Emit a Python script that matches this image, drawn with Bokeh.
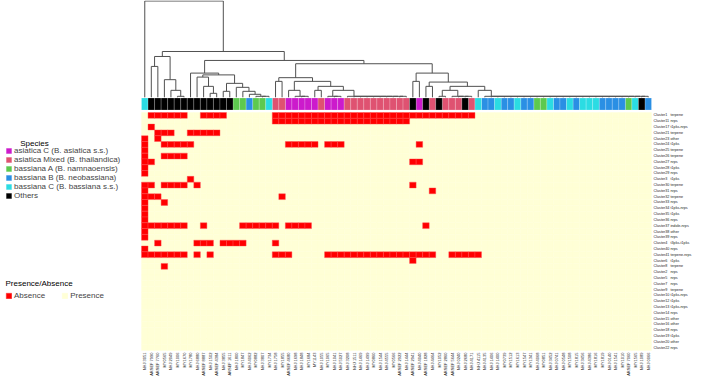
import math
from bokeh.plotting import figure
from bokeh.models import Range1d, Legend, LegendItem
from bokeh.core.properties import value
from bokeh.embed import file_html
from bokeh.resources import INLINE

# ---------------- data ----------------
strains = ["NHJ 3051", "ARSEF 7990", "ARSEF 7760", "MY0565", "NHJ 2049", "MY1006", "MY1670", "MY1780",
           "NHJ 6880", "ARSEF 8887", "NHJ 1502", "ARSEF 4384", "NHJ 3855", "ARSEF 1611", "NHJ 1800",
           "MY1847", "NHJ 4062", "MY0882", "NHJ 3807", "MY1734", "NHJ 1758", "MY1855", "ARSEF 4680",
           "NHJ 1698", "NHJ 1848", "MY1684", "MY1143", "NHJ 1055", "MY1065", "NHJ 1041", "NHJ 5027",
           "NHJ 3208", "NHJ 1511", "NHJ 1469", "NHJ 1499", "MY0860", "NHJ 1544", "NHJ 4555", "MY0566",
           "ARSEF 2922", "NHJ 1444", "ARSEF 2941", "NHJ 4040", "ARSEF 1828", "NHJ 4464", "MY1052",
           "ARSEF 2860", "ARSEF 5644", "NHJ 0240", "NHJ 2680", "NHJ 4171", "NHJ 4115", "NHJ 4135",
           "NHJ 1406", "NHJ 1400", "MY0739", "MY1512", "MY1613", "MY1547", "MY1341", "NHJ 4068",
           "MY0851", "NHJ 3452", "NHJ 0741", "NHJ 0548", "MY1508", "MY1815", "NHJ 3456", "NHJ 4386",
           "MY1816", "MY1819", "NHJ 0140", "NHJ 1541", "MY1010", "ARSEF 7060", "MY1565", "NHJ 1089",
           "NHJ 0066"]

# species code of each strain (column order)
species = ["bC",
           "O", "O", "O", "O", "O", "O", "O", "O", "O", "O", "O", "O", "O",
           "bA", "bA", "bB", "bA", "bA", "bC",
           "aM", "aM", "aC", "aC", "aC", "aC", "aC", "aM", "aC", "aC", "aC",
           "aM", "aM", "aM", "aM", "aM", "aM", "aM", "aM", "aM", "aM",
           "O", "aC", "O", "aM", "O", "aM", "aM", "aM", "O", "aM",
           "bC", "bB", "bB", "bC", "bB", "bB", "bC", "bB", "bB", "bA", "bA", "bC", "bB", "bB",
           "bC", "bB", "bC", "bC", "bC", "bB", "bB", "bB", "bB", "bA", "bC", "O", "bB"]

species_order = ["aC", "aM", "bA", "bB", "bC", "O"]
species_names = {"aC": "asiatica C (B. asiatica s.s.)",
                 "aM": "asiatica Mixed (B. thailandica)",
                 "bA": "bassiana A (B. namnaoensis)",
                 "bB": "bassiana B (B. neobassiana)",
                 "bC": "bassiana C (B. bassiana s.s.)",
                 "O": "Others"}
species_colors = {"aC": "#CC1ACC", "aM": "#DF5271", "bA": "#5DC94E",
                  "bB": "#2A8FE4", "bC": "#2BDCE3", "O": "#000000"}

clusters = ["Cluster1", "Cluster11", "Cluster17", "Cluster21", "Cluster23", "Cluster24", "Cluster25",
            "Cluster26", "Cluster27", "Cluster28", "Cluster29", "Cluster3", "Cluster30", "Cluster31",
            "Cluster32", "Cluster33", "Cluster34", "Cluster35", "Cluster36", "Cluster37", "Cluster38",
            "Cluster39", "Cluster4", "Cluster40", "Cluster41", "Cluster6", "Cluster8", "Cluster2",
            "Cluster5", "Cluster7", "Cluster9", "Cluster10", "Cluster12", "Cluster13", "Cluster14",
            "Cluster15", "Cluster16", "Cluster18", "Cluster19", "Cluster20", "Cluster22"]
cluster_types = ["terpene", "nrps", "t1pks-nrps", "terpene", "other", "t1pks", "terpene",
                 "terpene", "nrps", "t1pks", "nrps", "t1pks", "terpene", "nrps",
                 "terpene", "nrps", "t1pks-nrps", "t1pks", "nrps", "indole-nrps", "other",
                 "nrps", "t3pks-t1pks", "nrps", "terpene-nrps", "t1pks", "terpene", "nrps",
                 "nrps", "nrps", "terpene", "t1pks-nrps", "t1pks", "t1pks-nrps", "nrps",
                 "other", "other", "nrps", "t1pks", "other", "nrps"]

# runs (first column, last column) of "Absence" cells per cluster row
absent_runs = [
    [(1, 6), (9, 12), (20, 50)],
    [(20, 40)],
    [(1, 1)],
    [(2, 4), (7, 11)],
    [(0, 0), (2, 2)],
    [(0, 0), (3, 7), (22, 26), (28, 30), (42, 42)],
    [(0, 0)],
    [(0, 0), (3, 6)],
    [(0, 1), (41, 42)],
    [(0, 0)],
    [(0, 0)],
    [(7, 7)],
    [(0, 1), (3, 6), (8, 8), (41, 41)],
    [(0, 0), (44, 44)],
    [(0, 2), (21, 21)],
    [(0, 0), (3, 3)],
    [(0, 0)],
    [(0, 0)],
    [(0, 0)],
    [(0, 6), (9, 9), (15, 20), (22, 25), (43, 43)],
    [(0, 0)],
    [(0, 0)],
    [(2, 2), (8, 10), (12, 15), (20, 20)],
    [(0, 0)],
    [(0, 6), (8, 8), (10, 10), (20, 22), (28, 44), (47, 51)],
    [(41, 41)],
    [(3, 3)],
    [], [], [], [], [], [], [], [], [], [], [], [], [], [],
]


def chain(leaves, h):
    """right-leaning chain of near-identical leaves merged at height h"""
    node = leaves[-1]
    for lf in reversed(leaves[:-1]):
        node = (h, lf, node)
    return node


# dendrogram: (merge height, left, right); integers are column indices
tree = (96.7, 0,
        (46,
         (41, (31, 1, 2), (17.7, 3, (7, 4, (1, 5, 6)))),
         (37,
          (24.3, 7,
           (22.5,
            (20.3, 8, (11, 9, (4, 10, 11))),
            (14, (6, 12, 13), (10, 14, (6, 15, (3, 16, (1, 17, (1, 18, 19)))))))),
          (33.7,
           (19.7, (16, 20, 21),
            (16, (7, 22, (1, 23, (1, 24, 25))),
             (11, (7, 26, 27),
              (7, (1, 28, (1, 29, 30)), chain([31, 32, 33, 34, 35, 36, 37, 38, 39, 40], 1))))),
           (24.3, (16, 41, 42),
            (15.3, (11, 43, 44),
             (11, (7, (1, 45, 46), (1, 47, (1, 48, (1, 49, 50)))),
              (7, 51, chain([52, 53, 54, 55, 56, 57, 58, 59, 60, 61, 62, 63, 64, 65, 66, 67, 68,
                             69, 70, 71, 72, 73, 74, 75, 76, 77], 1)))))))))

# ---------------- layout (pixels on the canvas) ----------------
W, H = 705, 383
NCOL, NROW = len(strains), len(clusters)
PX_COL = 510.0 / NCOL
PX_ROW = 238.0 / NROW
HM_LEFT, HM_TOP = 141.0, 112.0
x_start = -0.5 - HM_LEFT / PX_COL
x_end = x_start + W / PX_COL
y_end = 0.5 + HM_TOP / PX_ROW
y_start = y_end - H / PX_ROW


def xdata(px):
    return x_start + px / PX_COL


def ydata(px):
    return y_end - px / PX_ROW


FONT = "Liberation Sans"

p = figure(width=W, height=H, output_backend="svg", toolbar_location=None,
           x_range=Range1d(x_start, x_end), y_range=Range1d(y_start, y_end),
           x_axis_location=None, y_axis_location=None, min_border=0,
           background_fill_color="white", border_fill_color="white")
p.grid.visible = False
p.outline_line_color = None

# ---------------- heatmap ----------------
ax, ay, px_, py_ = [], [], [], []
for r, runs in enumerate(absent_runs):
    cols = set()
    for a, b in runs:
        cols.update(range(a, b + 1))
    for j in range(NCOL):
        if j in cols:
            ax.append(j); ay.append(-r)
        else:
            px_.append(j); py_.append(-r)

r_pres = p.rect(x=px_, y=py_, width=1, height=1, fill_color="#FFFFD6",
                line_color="#FFFFD6", line_width=0.3)
r_abs = p.rect(x=ax, y=ay, width=1, height=1, fill_color="#FF0000",
               line_color="#FF4A4A", line_width=0.4)

# ---------------- species colour bar ----------------
cb_top, cb_bot = ydata(97.5), ydata(109.5)
sp_r = {}
for code in species_order:
    xs = [j for j, s in enumerate(species) if s == code]
    sp_r[code] = p.rect(x=xs, y=[(cb_top + cb_bot) / 2] * len(xs), width=1,
                        height=cb_top - cb_bot, fill_color=species_colors[code],
                        line_color="white", line_alpha=0.4, line_width=0.5)

# ---------------- dendrogram ----------------
segs = {"x0": [], "y0": [], "x1": [], "y1": []}


def lay(node):
    if isinstance(node, int):
        return float(node), 0.0
    h, a, b = node
    xa, ha = lay(a)
    xb, hb = lay(b)
    for x0, y0, x1, y1 in ((xa, h, xb, h), (xa, ha, xa, h), (xb, hb, xb, h)):
        segs["x0"].append(x0); segs["y0"].append(y0)
        segs["x1"].append(x1); segs["y1"].append(y1)
    return (xa + xb) / 2, h


lay(tree)
D_BASE, D_TOP = 96.8, 0.5
root_h = tree[0]
kpx = root_h / (D_BASE - D_TOP)
d_end = root_h + D_TOP * kpx
d_start = d_end - H * kpx
p.extra_y_ranges = {"dend": Range1d(d_start, d_end)}
p.segment(x0="x0", y0="y0", x1="x1", y1="y1", source=segs, y_range_name="dend",
          line_color="#505050", line_width=1)

# ---------------- labels ----------------
p.text(x=list(range(NCOL)), y=[ydata(352)] * NCOL, text=strains, angle=math.pi / 2,
       text_align="right", text_baseline="middle", text_font=value(FONT),
       text_font_size="4px", text_color="#222222")
p.text(x=[xdata(653)] * NROW, y=[-r for r in range(NROW)], text=clusters,
       text_align="left", text_baseline="middle", text_font=value(FONT),
       text_font_size="3.7px", text_color="#222222")
p.text(x=[xdata(670)] * NROW, y=[-r for r in range(NROW)], text=cluster_types,
       text_align="left", text_baseline="middle", text_font=value(FONT),
       text_font_size="3.7px", text_color="#222222")

# legend titles
p.text(x=[xdata(34)], y=[ydata(143)], text=["Species"], text_align="center",
       text_baseline="middle", text_font=value(FONT), text_font_size="8px", text_color="black")
p.text(x=[xdata(5)], y=[ydata(283)], text=["Presence/Absence"], text_align="left",
       text_baseline="middle", text_font=value(FONT), text_font_size="8px", text_color="black")

common = dict(padding=0, margin=0, glyph_width=7, glyph_height=7, label_height=8,
              label_standoff=2, label_text_font=FONT, label_text_font_size="8px",
              label_text_line_height=1.0,
              border_line_color=None, background_fill_alpha=0)
leg_sp = Legend(items=[LegendItem(label=species_names[c], renderers=[sp_r[c]]) for c in species_order],
                location=(5, H - 199.5), orientation="vertical", spacing=0, **common)
leg_pa = Legend(items=[LegendItem(label="Absence", renderers=[r_abs]),
                       LegendItem(label="Presence", renderers=[r_pres])],
                location=(5, H - 299.5), orientation="horizontal", spacing=16, **common)
p.add_layout(leg_sp)
p.add_layout(leg_pa)

open("out.html", "w").write(file_html(p, INLINE))
